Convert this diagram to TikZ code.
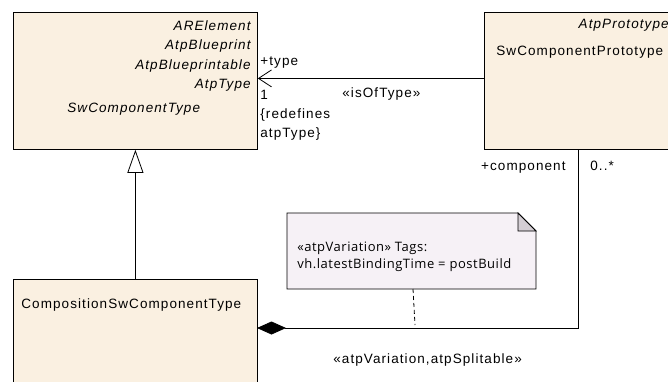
\documentclass[tikz,border=0pt]{standalone}
\usepackage{fontspec}
\setmainfont{Liberation Sans}[LetterSpace=8]
\newfontfamily\notefont{Open Sans}[LetterSpace=4]
\usetikzlibrary{arrows.meta,positioning}

\definecolor{clsfill}{RGB}{250,240,225}
\definecolor{notefill}{RGB}{246,241,246}
\definecolor{foldfill}{RGB}{212,206,212}

\tikzset{
    umlclass/.style={draw, line width=0.8pt, fill=clsfill, anchor=north west,
                     inner sep=0pt},
    lbl/.style={inner sep=0pt, font=\fontsize{13.5}{15}\selectfont},
    stereo/.style={lbl, font=\fontsize{13.5}{15}\selectfont\itshape},
    notetext/.style={inner sep=0pt, font=\notefont\fontsize{13}{15}\selectfont},
}

\begin{document}
\begin{tikzpicture}[x=1pt, y=-1pt, line width=0.8pt]
    \useasboundingbox (0,0) rectangle (668,381);

    % classes
    \node(swct)  at ( 13, 12) [umlclass, minimum width=244pt, minimum height=137pt] {};
    \node(proto) at (484, 12) [umlclass, minimum width=190pt, minimum height=137pt] {};
    \node(comp)  at ( 13,279) [umlclass, minimum width=244pt, minimum height=130pt] {};

    \node(s1) at (251, 30) [stereo, anchor=base east] {ARElement};
    \node(s2) at (251, 49.5) [stereo, anchor=base east] {AtpBlueprint};
    \node(s3) at (251, 69) [stereo, anchor=base east] {AtpBlueprintable};
    \node(s4) at (251, 88.5) [stereo, anchor=base east] {AtpType};
    \node(swctname) at (67,112) [stereo, anchor=base west] {SwComponentType};

    \node(s5) at (669, 28.5) [stereo, anchor=base east] {AtpPrototype};
    \node(protoname) at (496, 55) [lbl, anchor=base west] {SwComponentPrototype};

    \node(compname) at (21,308) [lbl, anchor=base west] {CompositionSwComponentType};

    % note
    \coordinate(notefoot) at (413,289);
    \coordinate(linefoot) at (415,325);
    \draw[fill=notefill] (287,213) -- (518,213) -- (536,231) -- (536,289) -- (287,289) -- cycle;
    \draw[fill=foldfill] (518,213) -- (518,231) -- (536,231) -- cycle;
    \node(n1) at (297,251.5) [notetext, anchor=base west] {«atpVariation» Tags:};
    \node(n2) at (297,268.5) [notetext, anchor=base west] {vh.latestBindingTime = postBuild};

    % connectors
    \draw[-{Triangle[open, length=23pt, width=16pt]}, fill=clsfill] (comp.north) -- (swct.south);
    \draw[-{Straight Barb[length=13pt, width=17pt]}] ([yshift=2.5pt]proto.west) -- ([yshift=2.5pt]swct.east);
    \coordinate(partjoint) at (578,149);
    \coordinate(cmpjoint)  at (257,328);
    \draw[-{Diamond[length=29pt, width=13pt]}] (partjoint) |- (cmpjoint);
    \draw[dashed, dash pattern=on 4pt off 3pt] (notefoot) -- (linefoot);

    % association labels
    \node(ltype) at (260, 65) [lbl, anchor=base west] {+type};
    \node(lone)  at (260, 99) [lbl, anchor=base west] {1};
    \node(lred)  at (260,118) [lbl, anchor=base west] {\{redefines};
    \node(latp)  at (260,137) [lbl, anchor=base west] {atpType\}};
    \node(lisof) at (342, 97) [lbl, anchor=base west] {«isOfType»};
    \node(lcomp) at (566,170) [lbl, anchor=base east] {+component};
    \node(lmul)  at (590,170) [lbl, anchor=base west] {0..*};
    \node(lsplit) at (333,363) [lbl, anchor=base west] {«atpVariation,atpSplitable»};
\end{tikzpicture}
\end{document}
